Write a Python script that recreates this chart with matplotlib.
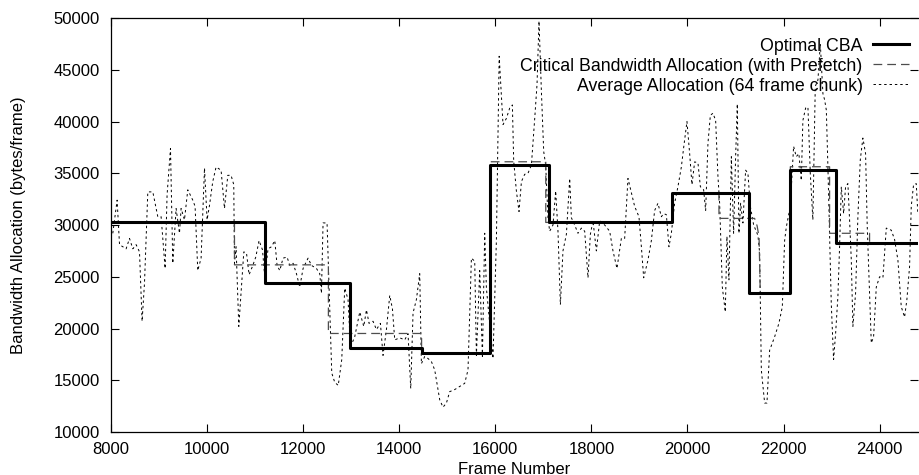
import matplotlib
matplotlib.use("Agg")
import matplotlib.pyplot as plt

plt.rcParams['font.family'] = ['Liberation Sans', 'DejaVu Sans']

# Optimal CBA (step function: value holds from frame until next frame)
cbaFrames = [8000, 11200, 12984, 14465, 15885, 17110, 19686, 21280, 22141, 23084, 24800]
cbaValues = [30250, 24350, 18150, 17650, 35770, 30250, 33060, 23400, 35290, 28250, 28250]

# Critical Bandwidth Allocation (with Prefetch)
pfFrames = [8000, 10570, 10570, 12525, 12525, 14465, 14465, 15900, 15900, 17050, 17050,
            19686, 19686, 20655, 20655, 21397, 21450, 21490, 21515, 22141, 22141,
            22958, 22958, 23790, 23790, 24800]
pfValues = [30250, 30250, 26150, 26150, 19520, 19520, 17650, 17650, 36110, 36110, 30250,
            30250, 33060, 33060, 30640, 30640, 29900, 28800, 23400, 23400, 35630,
            35630, 29200, 29200, 28250, 28250]

# Average Allocation (64 frame chunk)
avgFrames = [8037, 8127, 8177, 8314, 8385, 8454, 8523, 8593, 8647, 8697, 8766, 8870, 8974,
             9043, 9126, 9167, 9238, 9286, 9355, 9425, 9459, 9529, 9598, 9702, 9750, 9806,
             9875, 9946, 10000, 10050, 10118, 10187, 10291, 10362, 10431, 10499, 10555,
             10570, 10603, 10660, 10707, 10764, 10820, 10874, 10944, 11013, 11082, 11153,
             11200, 11269, 11340, 11409, 11457, 11513, 11581, 11665, 11721, 11790, 11860,
             11929, 11998, 12102, 12172, 12276, 12345, 12380, 12414, 12497, 12595, 12657,
             12730, 12803, 12865, 12934, 12984, 13073, 13178, 13261, 13317, 13371, 13454,
             13525, 13608, 13662, 13733, 13802, 13858, 13906, 14010, 14114, 14183, 14239,
             14287, 14357, 14426, 14461, 14530, 14599, 14670, 14738, 14843, 14911, 14982,
             15050, 15154, 15258, 15362, 15431, 15502, 15571, 15606, 15675, 15731, 15779,
             15814, 15951, 16022, 16080, 16160, 16230, 16299, 16355, 16382, 16438, 16493,
             16543, 16611, 16680, 16751, 16820, 16868, 16909, 16959, 17007, 17048, 17096,
             17131, 17200, 17256, 17304, 17354, 17408, 17479, 17548, 17583, 17652, 17720,
             17791, 17860, 17929, 17978, 18033, 18103, 18172, 18276, 18380, 18449, 18532,
             18623, 18692, 18761, 18832, 18900, 18990, 19040, 19088, 19177, 19248, 19316,
             19385, 19456, 19503, 19560, 19614, 19664, 19732, 19801, 19872, 19926, 19989,
             20045, 20093, 20149, 20218, 20268, 20336, 20378, 20426, 20476, 20530, 20586,
             20634, 20669, 20725, 20787, 20821, 20863, 20913, 20960, 21002, 21037, 21071,
             21106, 21154, 21210, 21258, 21308, 21377, 21466, 21502, 21537, 21606, 21654,
             21710, 21814, 21903, 21974, 22022, 22057, 22140, 22209, 22264, 22319, 22369,
             22402, 22459, 22507, 22556, 22610, 22660, 22715, 22765, 22819, 22854, 22890,
             22923, 22958, 22993, 23041, 23083, 23131, 23166, 23202, 23250, 23291, 23339,
             23374, 23410, 23443, 23499, 23547, 23597, 23651, 23707, 23742, 23776, 23826,
             23874, 23930, 23999, 24068, 24138, 24242, 24311, 24380, 24450, 24519, 24567,
             24623, 24658, 24706, 24762, 24795]
avgValues = [29200, 32400, 28100, 27700, 28700, 27700, 28100, 27400, 20700, 24400, 33200, 33200, 30800,
             30800, 25800, 32900, 37400, 26300, 31600, 29200, 31600, 30500, 33400, 32400, 31800, 25600,
             26800, 35500, 30500, 31900, 34200, 35600, 35300, 31600, 34800, 34800, 33900,
             26300, 27900, 20200, 23400, 27400, 27300, 25200, 26000, 26900, 28500, 27600,
             25000, 27700, 27900, 28500, 26100, 25600, 26800, 26900, 26100, 26300, 25300,
             24000, 25800, 26800, 26100, 25800, 25300, 23400, 30200, 30200, 15700, 14800,
             14500, 17000, 23900, 22800, 18200, 19200, 21600, 20200, 21800, 20500, 20700,
             19900, 20500, 17400, 19900, 23200, 21900, 18900, 19100, 18900, 19500, 14200,
             21500, 22800, 25300, 16600, 17300, 17100, 16800, 16000, 13100, 12400, 12800,
             13900, 14100, 14400, 14700, 16000, 26800, 26500, 17400, 25600, 17300, 29200,
             23900, 17100, 28500, 46300, 39700, 40300, 41300, 41600, 36200, 33300, 31300,
             34200, 34900, 35000, 35800, 40300, 43600, 49700, 42900, 37100, 35800, 30700,
             29400, 30000, 33300, 29400, 22300, 27500, 29100, 34500, 30700, 30000, 29200,
             29700, 29400, 24900, 29100, 30400, 27500, 30400, 30000, 29400, 27500, 25800,
             28700, 28700, 34500, 33100, 31800, 30800, 27900, 24900, 26600, 28500, 31400,
             32100, 30800, 31100, 31000, 27900, 29200, 32100, 33700, 35600, 37700, 40000,
             36900, 33900, 36100, 36000, 33700, 33400, 31400, 37900, 40600, 40800, 40100,
             34700, 32100, 24000, 21600, 28900, 24700, 36600, 29200, 36600, 41700, 29200,
             32100, 30200, 35300, 35000, 31800, 30000, 29000, 27300, 16000, 12800, 12800,
             17900, 19200, 20500, 22100, 28500, 29800, 31800, 37600, 36600, 36900, 34300,
             40100, 41300, 41400, 35000, 30500, 43400, 44000, 47500, 42700, 42100, 41100,
             35600, 29200, 22400, 17000, 19500, 23100, 27900, 33700, 31100, 33700, 34000,
             30500, 26600, 20200, 23400, 30800, 36300, 38400, 36900, 29800, 25300, 18600,
             19200, 24000, 25000, 24900, 29700, 29500, 28600, 26600, 22100, 21100, 22800,
             26000, 31800, 33900, 34000, 31100]

xTicks = list(range(8000, 24001, 2000))
yTicks = list(range(10000, 50001, 5000))

fig = plt.figure(figsize=(9.19, 4.75), dpi=100)
ax = fig.add_axes([0.1208, 0.0905, 0.8782, 0.8716])

ax.plot(cbaFrames, cbaValues, drawstyle='steps-post', color='black', linewidth=2.2,
        label='Optimal CBA', zorder=4)
ax.plot(pfFrames, pfValues, color='0.3', linewidth=0.9, dashes=(7, 4),
        label='Critical Bandwidth Allocation (with Prefetch)', zorder=3)
ax.plot(avgFrames, avgValues, color='black', linewidth=0.7, dashes=(2.5, 3),
        label='Average Allocation (64 frame chunk)', zorder=2)

ax.set_xlim(8000, 24800)
ax.set_ylim(10000, 50000)
ax.set_xticks(xTicks)
ax.set_yticks(yTicks)
ax.tick_params(direction='in', length=5.8, width=0.8, labelsize=12, top=True, right=True)
ax.tick_params(axis='y', pad=8)
ax.tick_params(axis='x', pad=7)
ax.spines['right'].set_visible(False)
for s in ['left', 'bottom', 'top']:
    ax.spines[s].set_linewidth(0.9)

ax.set_xlabel('Frame Number', fontsize=12)
ax.set_ylabel('Bandwidth Allocation (bytes/frame)', fontsize=12)
ax.xaxis.set_label_coords(0.5, -0.072)
ax.yaxis.set_label_coords(-0.1056, 0.5)

ax.legend(loc='upper right', markerfirst=False, frameon=False, fontsize=12.8,
          handlelength=2.0, handletextpad=0.6, labelspacing=0.17,
          borderaxespad=0, borderpad=0.4, bbox_to_anchor=(0.9973, 0.97))

plt.savefig('out.png', dpi=100)
